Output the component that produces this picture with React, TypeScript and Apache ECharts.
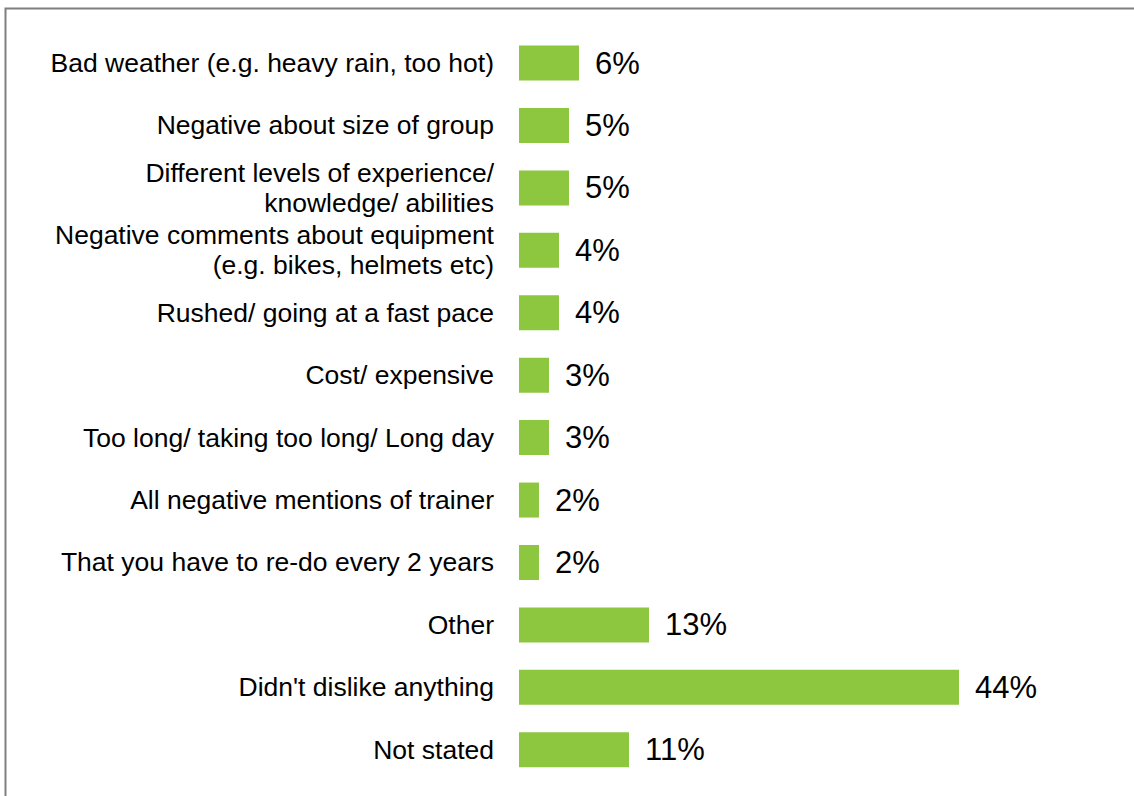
import React, { useEffect, useRef } from "react";
import * as echarts from "echarts";

const categories: string[] = [
  "Bad weather (e.g. heavy rain, too hot)",
  "Negative about size of group",
  "Different levels of experience/\nknowledge/ abilities",
  "Negative comments about equipment\n(e.g. bikes, helmets etc)",
  "Rushed/ going at a fast pace",
  "Cost/ expensive",
  "Too long/ taking too long/ Long day",
  "All negative mentions of trainer",
  "That you have to re-do every 2 years",
  "Other",
  "Didn't dislike anything",
  "Not stated",
];

const values: number[] = [6, 5, 5, 4, 4, 3, 3, 2, 2, 13, 44, 11];

const FONT = "'Liberation Sans', Arial, sans-serif";

export default function App() {
  const ref = useRef<HTMLDivElement>(null);

  useEffect(() => {
    if (!ref.current) return;
    const chart = echarts.init(ref.current, undefined, { renderer: "svg" });
    chart.setOption({
      animation: false,
      backgroundColor: "#ffffff",
      graphic: [
        {
          type: "rect",
          shape: { x: 5.5, y: 8.5, width: 1300, height: 1000 },
          style: { fill: "none", stroke: "#7f7f7f", lineWidth: 2 },
          silent: true,
        },
      ],
      grid: {
        left: 519,
        top: 31.8,
        width: 500,
        height: 749.2,
        containLabel: false,
      },
      xAxis: {
        type: "value",
        min: 0,
        max: 50,
        show: false,
      },
      yAxis: {
        type: "category",
        data: categories,
        inverse: true,
        axisLine: { show: false },
        axisTick: { show: false },
        axisLabel: {
          margin: 25,
          color: "#000000",
          fontFamily: FONT,
          fontSize: 26.5,
          lineHeight: 30,
          align: "right",
        },
      },
      series: [
        {
          type: "bar",
          data: values,
          barWidth: 35,
          itemStyle: { color: "#8DC63F" },
          label: {
            show: true,
            position: "right",
            distance: 16,
            formatter: "{c}%",
            color: "#000000",
            fontFamily: FONT,
            fontSize: 31,
          },
        },
      ],
    });
    return () => chart.dispose();
  }, []);

  return (
    <div
      ref={ref}
      style={{ position: "fixed", left: 0, top: 0, width: 1134, height: 796 }}
    />
  );
}
